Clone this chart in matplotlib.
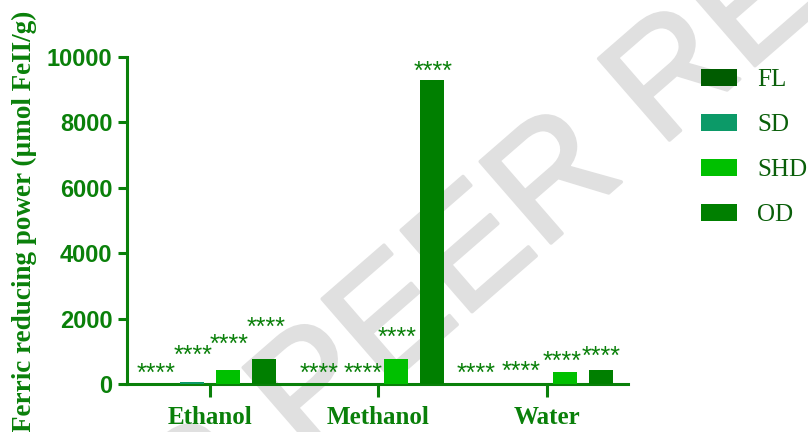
import numpy as np
import matplotlib
matplotlib.use("Agg")
import matplotlib.pyplot as plt
import matplotlib.patheffects as pe
from matplotlib.patches import Patch

# Ferric reducing power per solvent extract and drying method
solvents = ["Ethanol", "Methanol", "Water"]
methods = ["FL", "SD", "SHD", "OD"]
fl = [0, 0, 0]
sd = [50, 0, 0]
shd = [430, 755, 358]
od = [755, 9300, 428]
signif = ["****"] * 4

# placement of the significance marks: height (data units) and a small
# sideways nudge (in category widths) so neighbouring marks do not collide
mark_y = {
    "FL": [316, 316, 316],
    "SD": [867, 316, 377],
    "SHD": [1204, 1419, 684],
    "OD": [1725, 9540, 837],
}
mark_dx = {
    "FL": [0.003, -0.033, -0.10],
    "SD": [0.006, 0.018, -0.047],
    "SHD": [0.006, 0.006, -0.018],
    "OD": [0.015, 0.006, 0.003],
}

colors = {"FL": "#005c00", "SD": "#0c9a68", "SHD": "#00c000", "OD": "#007f00"}
green = "#0a800a"
legend_green = "#0a5f0a"

series = {"FL": fl, "SD": sd, "SHD": shd, "OD": od}

fig = plt.figure(figsize=(8.08, 4.32), dpi=100)

# faint diagonal watermark behind the plot
wm_grey = "#e0e0e0"
fig.text(548 / 808, 1 - 192 / 432, "FOR PEER REVIEW", rotation=41,
         ha="center", va="center", fontsize=113, color=wm_grey,
         family=["Liberation Sans Narrow", "Liberation Sans"], zorder=-1,
         rotation_mode="anchor",
         path_effects=[pe.Stroke(linewidth=2.5, foreground=wm_grey,
                                 joinstyle="round", capstyle="round"),
                       pe.Normal()])

ax = fig.add_axes([127 / 808, 1 - 384 / 432, (628 - 127) / 808, (384 - 57) / 432])
ax.patch.set_alpha(0)

x = np.arange(len(solvents))
slot = 0.213
width = 0.142
for i, m in enumerate(methods):
    xs = x + (i - 1.5) * slot
    ax.bar(xs, series[m], width=width, color=colors[m], zorder=3)
    for xi, dx, yi in zip(xs, mark_dx[m], mark_y[m]):
        ax.text(xi + dx, yi, signif[i], ha="center", va="center", fontsize=18,
                color=green, family="Liberation Sans", zorder=4)

ax.set_ylim(0, 10000)
ax.set_xlim(-0.49, 2.48)
ax.set_yticks(np.arange(0, 10001, 2000))
ax.set_xticks(x)
ax.set_xticklabels(solvents, family="Liberation Serif", fontweight="bold",
                   fontsize=18, color=green)
for lab in ax.get_yticklabels():
    lab.set_family("Liberation Sans")
    lab.set_fontweight("bold")
    lab.set_fontsize(17)
    lab.set_color(green)

for s in ["top", "right"]:
    ax.spines[s].set_visible(False)
for s in ["left", "bottom"]:
    ax.spines[s].set_color(green)
    ax.spines[s].set_linewidth(2.2)
ax.tick_params(axis="y", length=6.5, width=2.2, color=green, pad=4)
ax.tick_params(axis="x", length=9, width=2.2, color=green, pad=6.5)

fig.text(24 / 808, 1 - 221 / 432, "Ferric reducing power (µmol FeII/g)",
         rotation=90, ha="center", va="center", fontsize=19.5,
         family="Liberation Serif", fontweight="bold", color=green)

handles = [Patch(facecolor=colors[m], label=m) for m in methods]
leg = fig.legend(handles=handles, loc="upper left",
                 bbox_to_anchor=(701 / 808, 1 - 69 / 432), frameon=False,
                 prop={"family": "Liberation Serif", "size": 18},
                 handlelength=1.44, handleheight=0.64, handletextpad=0.8,
                 labelspacing=0.92, borderaxespad=0, borderpad=0)
for t in leg.get_texts():
    t.set_color(legend_green)

fig.savefig("out.png", dpi=100)
